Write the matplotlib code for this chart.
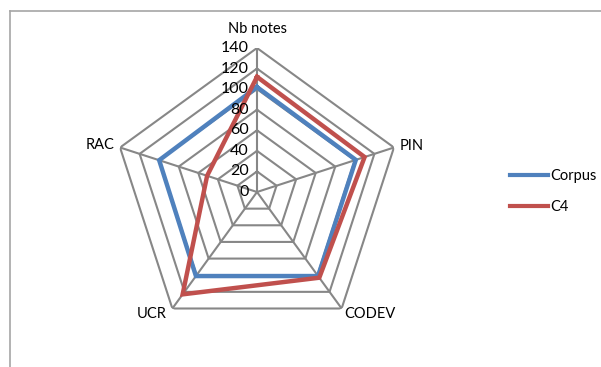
import numpy as np
import matplotlib
matplotlib.use("Agg")
import matplotlib.pyplot as plt
from matplotlib.lines import Line2D

categories = ["Nb notes", "PIN", "CODEV", "UCR", "RAC"]
corpus = [102, 101, 101, 101, 100]
c4 = [112, 110, 103, 123, 51]
ticks = [0, 20, 40, 60, 80, 100, 120, 140]
series_names = ["Corpus", "C4"]

plt.rcParams['font.family'] = ['Lato', 'DejaVu Sans']
W, H = 601, 367
fig = plt.figure(figsize=(W / 100, H / 100), dpi=100)

cx, cy, R = 257, 192, 144
ax = fig.add_axes([(cx - R) / W, (H - cy - R) / H, 2 * R / W, 2 * R / H], projection='polar')
ax.set_theta_offset(np.pi / 2)
ax.set_theta_direction(-1)
ax.set_ylim(0, ticks[-1])
ax.grid(False)
ax.spines['polar'].set_visible(False)
ax.set_xticks([])
ax.set_yticks([])
ax.patch.set_alpha(0)

n = len(categories)
angles = np.linspace(0, 2 * np.pi, n, endpoint=False)
closed = np.concatenate([angles, angles[:1]])

gray = '#878787'
for t in ticks[1:]:
    ax.plot(closed, [t] * (n + 1), color=gray, lw=1.5, solid_joinstyle='miter', zorder=1)
for a in angles:
    ax.plot([a, a], [0, ticks[-1]], color=gray, lw=1.5, zorder=1)

colors = ['#4F81BD', '#C0504D']
for vals, col, name in zip([corpus, c4], colors, series_names):
    v = list(vals) + [vals[0]]
    ax.plot(closed, v, color=col, lw=3.2, label=name, solid_joinstyle='miter', zorder=3)

fs = 10.5
for t in ticks:
    ax.annotate(str(t), xy=(0, t), xytext=(-8, 0), textcoords='offset pixels',
                ha='right', va='center', fontsize=11.5, color='black', zorder=4)

offsets = {
    "Nb notes": (1, 19, 'center', 'center'),
    "PIN": (6, 2, 'left', 'center'),
    "CODEV": (3, -6, 'left', 'center'),
    "UCR": (-6, -6, 'right', 'center'),
    "RAC": (-6, 3, 'right', 'center'),
}
for a, cat in zip(angles, categories):
    dx, dy, ha, va = offsets[cat]
    ax.annotate(cat, xy=(a, ticks[-1]), xytext=(dx, dy), textcoords='offset pixels',
                ha=ha, va=va, fontsize=fs, color='black', annotation_clip=False)

handles = [Line2D([], [], color=c, lw=3) for c in colors]
fig.legend(handles, series_names, loc='center left', bbox_to_anchor=(510 / W, (H - 191.7) / H),
           frameon=False, borderpad=0, borderaxespad=0, handlelength=2.6, handletextpad=0.15,
           labelspacing=1.15, fontsize=fs)

bc = '#a6a6a6'
fig.add_artist(Line2D([9.5 / W, 1], [(H - 10.5) / H] * 2, transform=fig.transFigure, color=bc, lw=1.2))
fig.add_artist(Line2D([9.5 / W] * 2, [0, (H - 10.5) / H], transform=fig.transFigure, color=bc, lw=1.2))

fig.savefig("out.png", dpi=100)
